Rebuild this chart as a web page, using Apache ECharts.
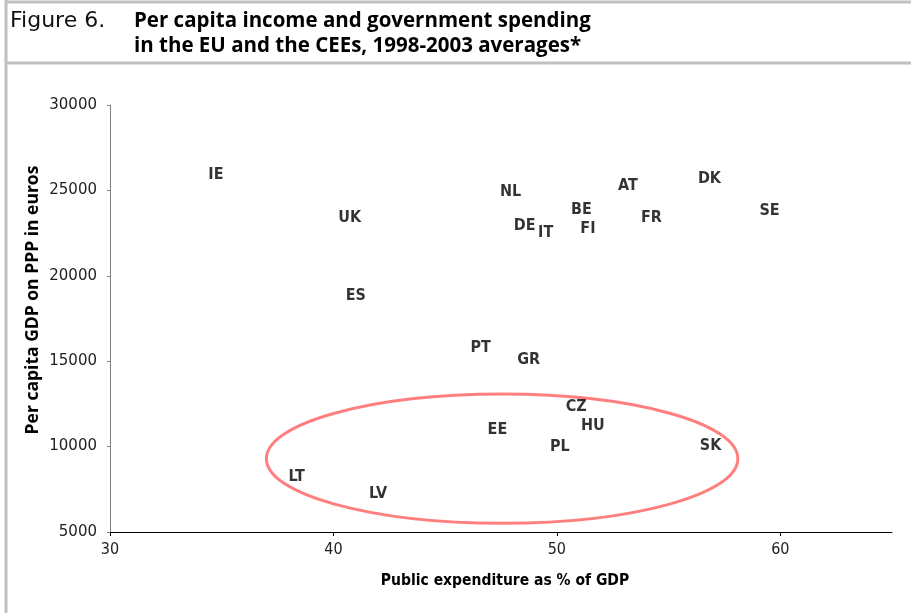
<!DOCTYPE html>
<html>
<head>
<meta charset="utf-8">
<script src="https://cdn.jsdelivr.net/npm/echarts@6/dist/echarts.min.js"></script>
<style>
html,body{margin:0;padding:0;background:#fff;}
#chart{width:911px;height:613px;}
</style>
</head>
<body>
<div id="chart"></div>
<script>
// Country codes
var countries = ['IE','UK','NL','DE','IT','BE','FI','AT','DK','FR','SE','ES','PT','GR','CZ','HU','EE','PL','SK','LT','LV'];
// Public expenditure as % of GDP
var expenditure = [34.74,40.73,47.93,48.56,49.50,51.10,51.39,53.18,56.83,54.23,59.52,41.00,46.59,48.74,50.87,51.61,47.34,50.13,56.88,38.35,42.00];
// Per capita GDP on PPP in euros
var gdpPerCapita = [25900,23400,24890,22920,22490,23850,22740,25260,25650,23370,23810,18820,15770,15070,12340,11220,10970,9960,10040,8240,7210];
// Axis ticks
var xTicks = [30,40,50,60];
var yTicks = [5000,10000,15000,20000,25000,30000];
// Ellipse around CEE countries, in data units: [xMin, xMax, yMin, yMax]
var ceeEllipse = [37.0, 58.1, 5510, 13080];

var NARROW = '"Liberation Sans Narrow", "Arial Narrow", "DejaVu Sans Condensed", Roboto, sans-serif';

var chart = echarts.init(document.getElementById('chart'), null, {renderer:'canvas'});

var seriesData = countries.map(function(c,i){ return {name:c, value:[expenditure[i], gdpPerCapita[i]]}; });

var option = {
  animation:false,
  backgroundColor:'#fff',
  grid:{left:110, right:19, top:105, bottom:81, containLabel:false},
  xAxis:{
    type:'value', min:30, max:65, interval:10,
    axisLine:{show:true, lineStyle:{color:'#000', width:1}},
    axisTick:{show:true, length:4, customValues:xTicks, lineStyle:{color:'#000'}},
    axisLabel:{show:true, customValues:xTicks, margin:10, color:'#222', fontFamily:NARROW, fontSize:16},
    splitLine:{show:false}
  },
  yAxis:{
    type:'value', min:yTicks[0], max:yTicks[yTicks.length-1], interval:5000,
    axisLine:{show:true, lineStyle:{color:'#808080', width:1}},
    axisTick:{show:true, length:3, lineStyle:{color:'#808080'}},
    axisLabel:{show:true, margin:13, color:'#222', fontFamily:'DejaVu Sans', fontSize:15, formatter:function(v){return String(v);}},
    splitLine:{show:false}
  },
  series:[{
    type:'scatter',
    symbolSize:2,
    itemStyle:{color:'rgba(0,0,0,0)'},
    label:{show:true, position:'inside', formatter:'{b}', color:'#000', fontFamily:NARROW, fontWeight:'bold', fontSize:16},
    emphasis:{disabled:true},
    data:seriesData,
    z:5
  }],
  graphic:[
    {id:'leftBorder', type:'line', shape:{x1:6,y1:0,x2:6,y2:613}, style:{stroke:'#c0c0c0', lineWidth:3}, z:1},
    {id:'topBorder', type:'line', shape:{x1:5,y1:2,x2:911,y2:2}, style:{stroke:'#c0c0c0', lineWidth:3}, z:1},
    {id:'titleBorder', type:'line', shape:{x1:5,y1:63,x2:911,y2:63}, style:{stroke:'#c0c0c0', lineWidth:3}, z:1},
    {id:'fig', type:'text', x:10, y:21, style:{text:'Figure 6.', fill:'#111', font:'normal 22px "DejaVu Sans", sans-serif', verticalAlign:'middle', align:'left'}},
    {id:'t1', type:'text', x:134, y:21, style:{text:'Per capita income and government spending', fill:'#000', font:'bold 20.5px "Open Sans"', verticalAlign:'middle', align:'left'}},
    {id:'t2', type:'text', x:134, y:46, style:{text:'in the EU and the CEEs, 1998-2003 averages*', fill:'#000', font:'bold 20.5px "Open Sans"', verticalAlign:'middle', align:'left'}},
    {id:'yname', type:'text', x:33, y:300, rotation:Math.PI/2, style:{text:'Per capita GDP on PPP in euros', fill:'#000', font:'bold 17.5px "Open Sans"', verticalAlign:'middle', align:'center'}},
    {id:'xname', type:'text', x:505, y:581, style:{text:'Public expenditure as % of GDP', fill:'#000', font:'bold 15.5px ' + NARROW, verticalAlign:'middle', align:'center'}}
  ]
};
chart.setOption(option);

var p1 = chart.convertToPixel({gridIndex:0}, [ceeEllipse[0], ceeEllipse[2]]);
var p2 = chart.convertToPixel({gridIndex:0}, [ceeEllipse[1], ceeEllipse[3]]);
chart.setOption({
  graphic:[{
    id:'ceeEllipse', type:'ellipse',
    shape:{cx:(p1[0]+p2[0])/2, cy:(p1[1]+p2[1])/2, rx:Math.abs(p2[0]-p1[0])/2, ry:Math.abs(p2[1]-p1[1])/2},
    style:{fill:'none', stroke:'#ff7f7f', lineWidth:3},
    z:1
  }]
});
</script>
</body>
</html>
